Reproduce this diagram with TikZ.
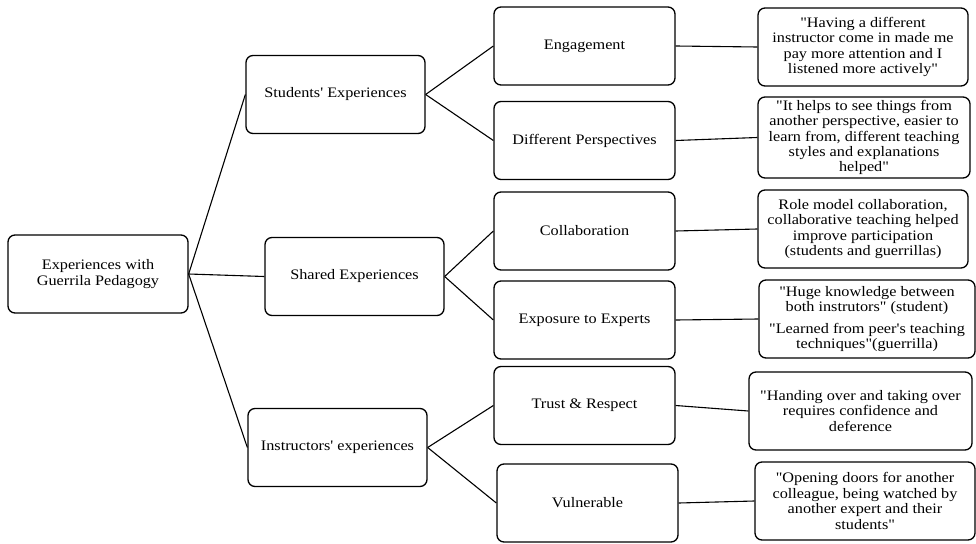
\documentclass[tikz,border=0pt]{standalone}
\usepackage{fontspec}
\newfontfamily\diagfont{Liberation Serif}[FakeStretch=1.12]

\begin{document}
\begin{tikzpicture}[x=1pt,y=-1pt]
\tikzstyle{every node}=[font=\diagfont\fontsize{14.5}{15.4}\selectfont]
\tikzstyle{box}=[draw,rounded corners=7pt,line width=1.3pt,inner sep=0pt,align=center,minimum height=78pt]
\tikzstyle{theme}=[box,minimum width=180pt]
\tikzstyle{quotebox}=[box,minimum width=212pt]
\tikzstyle{link}=[line width=1.1pt]
\useasboundingbox (0,0) rectangle (976,543);

\node[theme] (root) at (98,274) {Experiences with\\Guerrila Pedagogy};

\node[theme,minimum width=179pt] (stud) at (335.5,94.5) {Students' Experiences};
\node[theme,minimum width=179pt] (shar) at (354.5,276.5) {Shared Experiences};
\node[theme,minimum width=179pt] (inst) at (337.5,447.5) {Instructors' experiences};

\node[theme,minimum width=181pt] (eng) at (584.5,46) {Engagement};
\node[theme,minimum width=181pt] (diff) at (584.5,140.5) {Different Perspectives};
\node[theme,minimum width=181pt] (coll) at (584.5,231) {Collaboration};
\node[theme,minimum width=181pt] (expo) at (584.5,320) {Exposure to Experts};
\node[theme,minimum width=181pt] (trust) at (584.5,405.5) {Trust \& Respect};
\node[theme,minimum width=181pt] (vuln) at (587.5,503) {Vulnerable};

\node[quotebox,minimum width=210pt] (q1) at (863,47) {"Having a different\\instructor come in made me\\pay more attention and I\\listened more actively"};
\node[quotebox,minimum height=81pt] (q2) at (864,137.5) {"It helps to see things from\\another perspective, easier to\\learn from, different teaching\\styles and explanations\\helped"};
\node[quotebox,minimum width=210pt] (q3) at (863,229) {Role model collaboration,\\collaborative teaching helped\\improve participation\\(students and guerrillas)};
\node[quotebox,minimum width=216pt] (q4) at (867,319) {"Huge knowledge between\\both instrutors" (student)\\[6pt]"Learned from peer's teaching\\techniques"(guerrilla)};
\node[quotebox,minimum width=223pt] (q5) at (860.5,411) {"Handing over and taking over\\requires confidence and\\deference};
\node[quotebox,minimum width=220pt] (q6) at (865,501) {"Opening doors for another\\colleague, being watched by\\another expert and their\\students"};

\draw[link] (root.east) -- (stud.west);
\draw[link] (root.east) -- (shar.west);
\draw[link] (root.east) -- (inst.west);
\draw[link] (stud.east) -- (eng.west);
\draw[link] (stud.east) -- (diff.west);
\draw[link] (shar.east) -- (coll.west);
\draw[link] (shar.east) -- (expo.west);
\draw[link] (inst.east) -- (trust.west);
\draw[link] (inst.east) -- (vuln.west);
\draw[link] (eng.east) -- (q1.west);
\draw[link] (diff.east) -- (q2.west);
\draw[link] (coll.east) -- (q3.west);
\draw[link] (expo.east) -- (q4.west);
\draw[link] (trust.east) -- (q5.west);
\draw[link] (vuln.east) -- (q6.west);
\end{tikzpicture}
\end{document}
